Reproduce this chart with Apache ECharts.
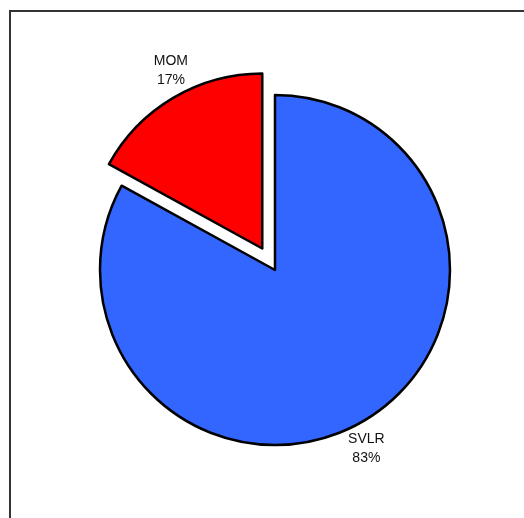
<!DOCTYPE html>
<html><head><meta charset="utf-8">
<script src="https://cdn.jsdelivr.net/npm/echarts@6/dist/echarts.min.js"></script>
<style>html,body{margin:0;padding:0;background:#fff}#c{width:524px;height:518px}</style>
</head><body><div id="c"></div>
<script>
const categories = ['SVLR', 'MOM'];
const values = [83, 17];
const colors = ['#3366FF', '#FF0000'];
const exploded = [false, true];

const chart = echarts.init(document.getElementById('c'), null, {renderer: 'canvas'});
chart.setOption({
  animation: false,
  backgroundColor: '#ffffff',
  graphic: [{
    type: 'rect', shape: {x: 10, y: 11, width: 700, height: 700},
    style: {fill: 'none', stroke: '#333333', lineWidth: 2}, silent: true
  }],
  series: [{
    type: 'pie',
    center: [275, 270],
    radius: 175,
    startAngle: 90,
    clockwise: true,
    avoidLabelOverlap: false,
    selectedMode: 'multiple',
    selectedOffset: 25,
    itemStyle: {borderColor: '#000', borderWidth: 2.5},
    select: {itemStyle: {borderColor: '#000', borderWidth: 2.5}},
    emphasis: {disabled: true},
    label: {
      show: true, position: 'outside',
      formatter: p => p.name + '\n' + Math.round(p.percent) + '%',
      fontFamily: 'Liberation Sans, Arial, sans-serif', fontSize: 14, lineHeight: 19,
      color: '#111', distanceToLabelLine: -14
    },
    labelLine: {show: false, length: 32, length2: 0},
    labelLayout: function () { return {align: 'center', verticalAlign: 'middle'}; },
    data: categories.map((n, i) => ({
      name: n, value: values[i], selected: exploded[i],
      itemStyle: {color: colors[i]}
    }))
  }]
});
</script></body></html>
